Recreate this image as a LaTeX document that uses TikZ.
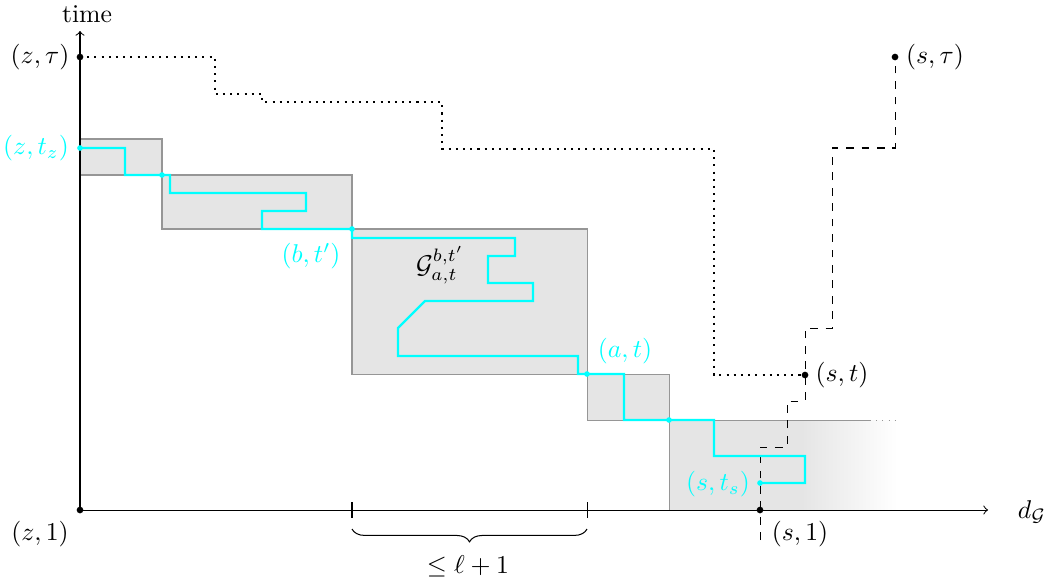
\documentclass[tikz,border=0pt]{standalone}
\usetikzlibrary{decorations.pathreplacing}
\definecolor{walkcyan}{RGB}{0,255,255}
\definecolor{boxline}{RGB}{150,150,150}
\begin{document}
\begin{tikzpicture}[x=0.389pt,y=-0.389pt,
  box/.style={draw=boxline, fill=gray!20},
  walk/.style={walkcyan, line width=0.9pt},
  bdot/.style={fill=black},
  cdot/.style={fill=walkcyan}]
\useasboundingbox (0,0) rectangle (1053,586);

% key points
\coordinate (O) at (80,510);
\coordinate (zt) at (80,57);
\coordinate (ztz) at (80,148);
\coordinate (p1) at (162,175);
\coordinate (bt) at (352,229);
\coordinate (at) at (587,374);
\coordinate (p2) at (669,420);
\coordinate (sts) at (760,483);
\coordinate (s1) at (760,510);
\coordinate (st) at (805,375);
\coordinate (stau) at (895,57);

% grey blocks
\draw[box] (80,139) rectangle (p1);
\draw[box] (p1) rectangle (bt);
\draw[box] (bt) rectangle (at);
\draw[box] (at) rectangle (p2);
\fill[gray!20] (p2) rectangle (803,510);
\shade[left color=gray!20, right color=white] (803,420) rectangle (897,510);
\draw[boxline] (669,510) -- (p2) -- (870,420);
\draw[boxline, dotted] (870,420) -- (900,420);

% axes
\draw[->] (O) -- (988,510);
\draw[->] (O) -- (80,31);
\node (xlab) at (1032,512) {$d_{\mathcal G}$};
\node (ylab) at (87,14) {time};

% ticks and brace
\draw (352,502) -- (352,518);
\draw (587,502) -- (587,518);
\draw[decorate, decoration={brace, mirror, amplitude=5pt}] (352,529) -- (587,529);
\node (len) at (468,566) {$\le \ell+1$};

% dotted path
\draw[thick, dotted] (zt) -- (215,57) -- (215,94) -- (262,94) -- (262,102)
  -- (442,102) -- (442,149) -- (714,149) -- (714,375) -- (st);

% dashed path
\draw[dashed] (760,540) -- (s1) -- (sts) -- (760,447) -- (787,447) -- (787,401)
  -- (805,401) -- (st) -- (805,328) -- (832,328) -- (832,148) -- (895,148) -- (stau);

% cyan walk
\draw[walk] (ztz) -- (125,148) -- (125,175) -- (p1) -- (170,175) -- (170,193)
  -- (306,193) -- (306,211) -- (262,211) -- (262,229) -- (bt) -- (352,238)
  -- (515,238) -- (515,256) -- (488,256) -- (488,283) -- (533,283) -- (533,301)
  -- (425,301) -- (398,328) -- (398,356) -- (578,356) -- (578,374) -- (at)
  -- (624,374) -- (624,420) -- (p2) -- (714,420) -- (714,456) -- (805,456)
  -- (805,483) -- (sts);

% dots
\foreach \p in {zt,O,s1,st,stau} \fill[bdot] (\p) circle (1.3pt);
\foreach \p in {ztz,p1,bt,at,p2,sts} \fill[cdot] (\p) circle (1.1pt);

% labels
\node (lztau) at (40,57) {$(z,\tau)$};
\node[walkcyan] (lztz) at (36,148) {$(z,t_z)$};
\node[walkcyan] (lbt) at (311,256) {$(b,t')$};
\node (lG) at (440,265) {$\mathcal{G}_{a,t}^{b,t'}$};
\node[walkcyan] (lat) at (625,351) {$(a,t)$};
\node[walkcyan] (lsts) at (718,484) {$(s,t_s)$};
\node (lst) at (842,375) {$(s,t)$};
\node (lstau) at (935,57) {$(s,\tau)$};
\node (lz1) at (40,534) {$(z,1)$};
\node (ls1) at (800,534) {$(s,1)$};
\end{tikzpicture}
\end{document}
